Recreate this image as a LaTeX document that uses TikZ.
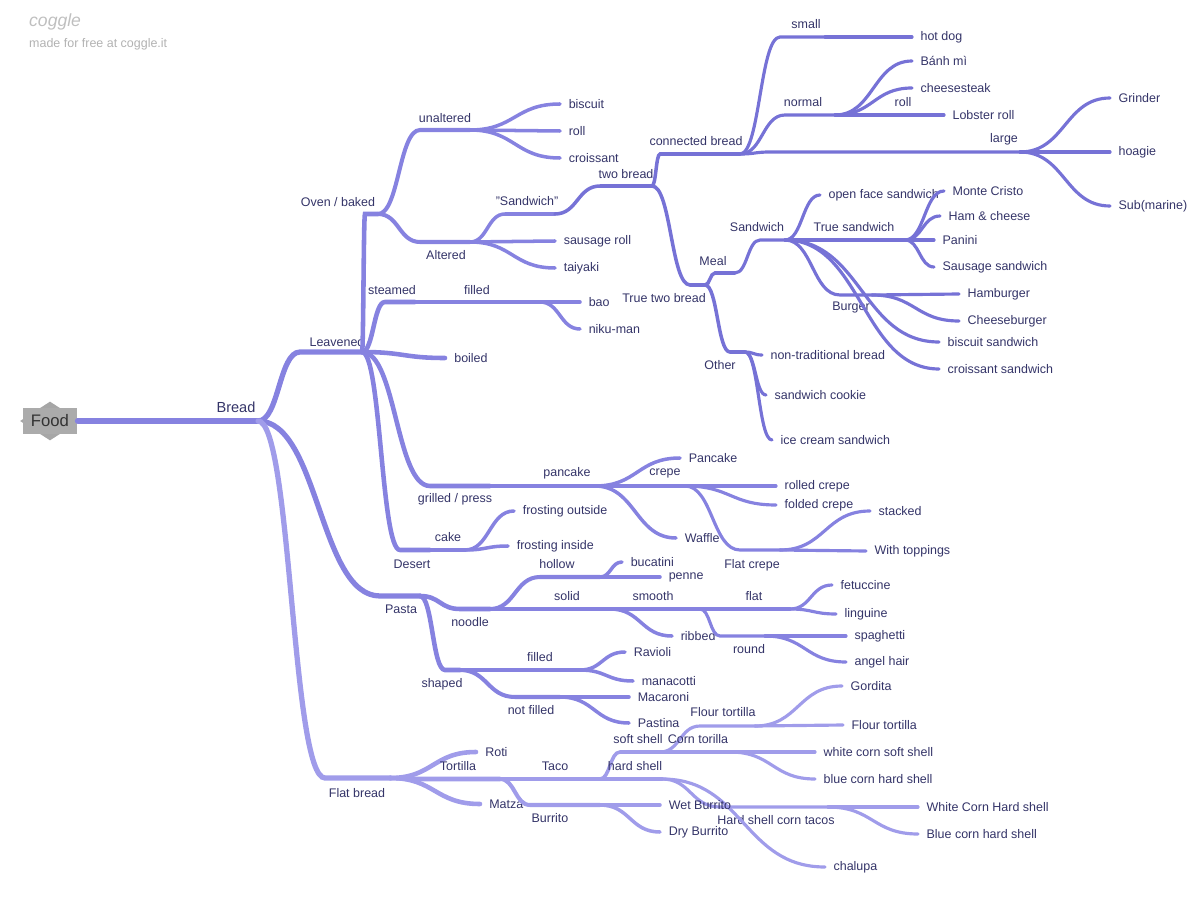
\documentclass[tikz,border=0pt]{standalone}
\usepackage{fontspec}
\setmainfont{Liberation Sans}
\usetikzlibrary{shapes.geometric,calc}
\definecolor{cA}{RGB}{118,114,214}
\definecolor{cB}{RGB}{134,130,224}
\definecolor{cC}{RGB}{160,156,234}
\definecolor{txt}{RGB}{52,52,104}
\tikzset{
  lbl/.style={text=txt,font=\fontsize{7.1}{9}\selectfont,inner sep=1pt},
  w1/.style={line width=3.4pt,line cap=round},
  w2/.style={line width=3.0pt,line cap=round},
  w3/.style={line width=2.6pt,line cap=round},
  w4/.style={line width=2.3pt,line cap=round},
  w5/.style={line width=2.0pt,line cap=round},
  w6/.style={line width=1.8pt,line cap=round},
}
% branch: parent, name, x0, x1, y, style, label x, label y, label
\newcommand\br[9]{%
  \coordinate (#2) at (#4,#5);
  \draw[#6] let \p1=(#1), \p2=(#3,#5) in (\p1) .. controls ({(\x1+\x2)/2},\y1) and ({(\x1+\x2)/2},\y2) .. (\p2) -- (#2);
  \node[lbl] (#2-l) at (#7,#8) {#9};}
% leaf: parent, name, x, y, style, text
\newcommand\lf[6]{%
  \draw[#5] let \p1=(#1), \p2=(#3,#4) in (\p1) .. controls ({(\x1+\x2)/2},\y1) and ({(\x1+\x2)/2},\y2) .. (\p2) node[lbl,right=3pt] (#2) {#6};}
\begin{document}
\begin{tikzpicture}[x=0.02cm,y=-0.02cm]
\useasboundingbox (0,0) rectangle (1200,902);
\node[text=black!25,font=\fontsize{10}{12}\itshape\selectfont,anchor=west] (brand) at (23,22) {coggle};
\node[text=black!30,font=\fontsize{7.1}{9}\selectfont,anchor=west] (made) at (23,44) {made for free at coggle.it};
% root
\node[diamond,fill=black!35,minimum width=1.2cm,minimum height=0.78cm,inner sep=0pt] (fooddia) at (50,421) {};
\node[fill=black!33,minimum width=1.1cm,minimum height=0.52cm,text=black!80,font=\fontsize{9.5}{11}\selectfont] (food) at (50,421) {Food};
\br{food.east}{bread}{80}{258}{421}{w1,cB}{236}{407}{\fontsize{8.3}{10}\selectfont Bread}
% leavened
\br{bread}{leav}{300}{362}{352}{w2,cB}{337}{342}{Leavened}
\br{leav}{oven}{365}{378}{214}{w3,cB}{338}{202}{Oven / baked}
\br{oven}{unalt}{420}{470}{130}{w4,cB}{445}{118}{unaltered}
\lf{unalt}{biscuit}{560}{104}{w5,cB}{biscuit}
\lf{unalt}{roll}{560}{131}{w5,cB}{roll}
\lf{unalt}{croiss}{560}{158}{w5,cB}{croissant}
\br{oven}{alt}{420}{470}{242}{w4,cB}{446}{255}{Altered}
\br{alt}{sandw}{505}{555}{214}{w5,cB}{527}{201}{"Sandwich"}
\lf{alt}{sausage}{555}{241}{w5,cB}{sausage roll}
\lf{alt}{taiyaki}{555}{268}{w5,cB}{taiyaki}
\br{sandw}{twob}{600}{652}{186}{w5,cA}{626}{174}{two bread}
\br{twob}{conn}{660}{740}{154}{w5,cA}{696}{141}{connected bread}
\br{conn}{small}{780}{825}{37}{w6,cA}{806}{24}{small}
\lf{small}{hotdog}{912}{37}{w6,cA}{hot dog}
\br{conn}{normal}{785}{835}{115}{w6,cA}{803}{102}{normal}
\lf{normal}{banhmi}{912}{61}{w6,cA}{Bánh mì}
\lf{normal}{cheese}{912}{88}{w6,cA}{cheesesteak}
\br{normal}{roll2}{880}{915}{115}{w6,cA}{903}{102}{roll}
\lf{roll2}{lobster}{944}{115}{w6,cA}{Lobster roll}
\br{conn}{large}{770}{1020}{152}{w6,cA}{1004}{139}{large}
\lf{large}{grinder}{1110}{98}{w6,cA}{Grinder}
\lf{large}{hoagie}{1110}{152}{w6,cA}{hoagie}
\lf{large}{sub}{1110}{206}{w6,cA}{Sub(marine)}
\br{twob}{truetwo}{690}{705}{285}{w5,cA}{664}{298}{True two bread}
\br{truetwo}{meal}{715}{735}{273}{w5,cA}{713}{261}{Meal}
\br{meal}{sandw2}{760}{785}{240}{w6,cA}{757}{227}{Sandwich}
\lf{sandw2}{openface}{820}{195}{w6,cA}{open face sandwich}
\br{sandw2}{truesand}{830}{905}{240}{w6,cA}{854}{227}{True sandwich}
\lf{truesand}{monte}{944}{191}{w6,cA}{Monte Cristo}
\lf{truesand}{ham}{940}{216}{w6,cA}{Ham \& cheese}
\lf{truesand}{panini}{934}{240}{w6,cA}{Panini}
\lf{truesand}{sausand}{934}{267}{w6,cA}{Sausage sandwich}
\br{sandw2}{burger}{840}{872}{295}{w6,cA}{851}{308}{Burger}
\lf{burger}{hamb}{959}{294}{w6,cA}{Hamburger}
\lf{burger}{cheeseb}{959}{321}{w6,cA}{Cheeseburger}
\lf{sandw2}{biscsand}{939}{342}{w6,cA}{biscuit sandwich}
\lf{sandw2}{croisand}{939}{369}{w6,cA}{croissant sandwich}
\br{truetwo}{other}{730}{745}{352}{w5,cA}{720}{365}{Other}
\lf{other}{nontrad}{762}{355}{w6,cA}{non-traditional bread}
\lf{other}{cookie}{766}{395}{w6,cA}{sandwich cookie}
\lf{other}{icecream}{772}{440}{w6,cA}{ice cream sandwich}
\br{leav}{steamed}{385}{415}{302}{w3,cB}{392}{290}{steamed}
\br{steamed}{filled1}{440}{540}{302}{w4,cB}{477}{290}{filled}
\lf{filled1}{bao}{580}{302}{w5,cB}{bao}
\lf{filled1}{niku}{580}{329}{w5,cB}{niku-man}
\lf{leav}{boiled}{445}{358}{w3,cB}{boiled}
\br{leav}{grill}{430}{490}{486}{w3,cB}{455}{499}{grilled / press}
\br{grill}{pancake}{490}{595}{486}{w4,cB}{567}{473}{pancake}
\lf{pancake}{pancake2}{680}{458}{w5,cB}{Pancake}
\br{pancake}{crepe}{615}{685}{486}{w5,cB}{665}{473}{crepe}
\lf{pancake}{waffle}{676}{538}{w5,cB}{Waffle}
\lf{crepe}{rolled}{776}{486}{w6,cB}{rolled crepe}
\lf{crepe}{folded}{776}{505}{w6,cB}{folded crepe}
\br{crepe}{flatcrepe}{740}{780}{550}{w6,cB}{752}{565}{Flat crepe}
\lf{flatcrepe}{stacked}{870}{511}{w6,cB}{stacked}
\lf{flatcrepe}{toppings}{866}{551}{w6,cB}{With toppings}
\br{leav}{desert}{400}{430}{550}{w3,cB}{412}{564}{Desert}
\br{desert}{cake}{432}{465}{550}{w4,cB}{448}{537}{cake}
\lf{cake}{frostout}{514}{511}{w5,cB}{frosting outside}
\lf{cake}{frostin}{508}{546}{w5,cB}{frosting inside}
% pasta
\br{bread}{pasta}{380}{420}{596}{w2,cB}{401}{609}{Pasta}
\br{pasta}{noodle}{460}{490}{609}{w3,cB}{470}{622}{noodle}
\br{noodle}{hollow}{540}{600}{577}{w4,cB}{557}{564}{hollow}
\lf{hollow}{bucatini}{622}{562}{w5,cB}{bucatini}
\lf{hollow}{penne}{660}{577}{w5,cB}{penne}
\br{noodle}{solid}{500}{610}{609}{w4,cB}{567}{596}{solid}
\br{solid}{smooth}{615}{700}{609}{w5,cB}{653}{596}{smooth}
\lf{solid}{ribbed}{672}{636}{w5,cB}{ribbed}
\br{smooth}{flat2}{705}{790}{609}{w6,cB}{754}{596}{flat}
\lf{flat2}{fetuc}{832}{585}{w6,cB}{fetuccine}
\lf{flat2}{lingu}{836}{614}{w6,cB}{linguine}
\br{smooth}{round}{720}{765}{636}{w6,cB}{749}{649}{round}
\lf{round}{spag}{846}{636}{w6,cB}{spaghetti}
\lf{round}{angel}{846}{662}{w6,cB}{angel hair}
\br{pasta}{shaped}{445}{460}{670}{w3,cB}{442}{684}{shaped}
\br{shaped}{filled2}{510}{580}{670}{w4,cB}{540}{657}{filled}
\lf{filled2}{ravioli}{625}{652}{w5,cB}{Ravioli}
\lf{filled2}{manac}{633}{681}{w5,cB}{manacotti}
\br{shaped}{notfilled}{515}{560}{697}{w4,cB}{531}{710}{not filled}
\lf{notfilled}{macaroni}{629}{697}{w5,cB}{Macaroni}
\lf{notfilled}{pastina}{629}{723}{w5,cB}{Pastina}
% flat bread
\br{bread}{flat}{325}{390}{778}{w2,cC}{357}{793}{Flat bread}
\lf{flat}{roti}{476}{752}{w3,cC}{Roti}
\br{flat}{tortilla}{420}{500}{779}{w3,cC}{458}{766}{Tortilla}
\lf{flat}{matza}{480}{804}{w3,cC}{Matza}
\br{tortilla}{taco}{510}{600}{779}{w4,cC}{555}{766}{Taco}
\br{taco}{soft}{620}{660}{752}{w5,cC}{638}{739}{soft shell}
\br{soft}{flourt}{700}{755}{726}{w6,cC}{723}{712}{Flour tortilla}
\lf{flourt}{gordita}{842}{686}{w6,cC}{Gordita}
\lf{flourt}{flourt2}{843}{725}{w6,cC}{Flour tortilla}
\br{soft}{corn}{665}{730}{752}{w6,cC}{698}{739}{Corn torilla}
\lf{corn}{whitesoft}{815}{752}{w6,cC}{white corn soft shell}
\lf{corn}{bluehard}{815}{779}{w6,cC}{blue corn hard shell}
\br{taco}{hard}{602}{662}{779}{w5,cC}{635}{766}{hard shell}
\br{hard}{hsct}{720}{828}{807}{w6,cC}{776}{820}{Hard shell corn tacos}
\lf{hsct}{whitehard}{918}{807}{w6,cC}{White Corn Hard shell}
\lf{hsct}{bluehard2}{918}{834}{w6,cC}{Blue corn hard shell}
\lf{hard}{chalupa}{825}{867}{w6,cC}{chalupa}
\br{tortilla}{burrito}{530}{600}{805}{w4,cC}{550}{818}{Burrito}
\lf{burrito}{wet}{660}{805}{w5,cC}{Wet Burrito}
\lf{burrito}{dry}{660}{832}{w5,cC}{Dry Burrito}
\end{tikzpicture}
\end{document}
